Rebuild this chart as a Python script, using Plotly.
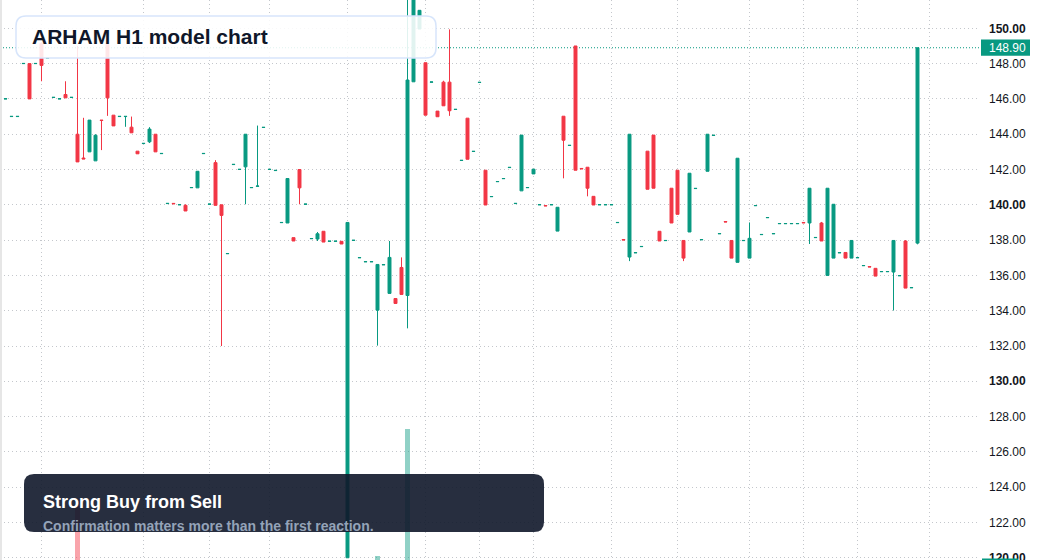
import plotly.graph_objects as go

# ---------------- data ----------------
opens = [146.00, 145.00, 145.00, 148.00, 148.00, 148.00, 149.15, 148.30, 146.08, 146.00,
         146.25, 146.08, 144.00, 142.65, 143.00, 142.49, 144.80, 149.09, 145.08, 145.00,
         145.00, 144.40, 143.04, 143.47, 143.57, 144.00, 142.90, 140.07, 140.08, 140.00,
         139.97, 140.97, 140.96, 142.90, 140.03, 142.39, 140.00, 137.23, 142.28, 142.00,
         142.15, 140.97, 141.05, 144.38, 142.00, 141.94, 138.99, 138.97, 138.14, 142.00,
         140.03, 138.08, 138.06, 138.50, 137.93, 137.93, 137.93, 120.00, 137.98, 137.00,
         136.77, 136.77, 134.03, 136.60, 134.98, 134.69, 136.45, 134.86, 146.97, 149.96,
         148.05, 146.95, 145.31, 146.95, 146.95, 145.40, 142.51, 144.91, 143.02, 146.93,
         141.96, 140.46, 141.31, 141.48, 142.11, 140.07, 140.79, 140.97, 141.75, 140.00,
         139.96, 140.00, 138.51, 145.02, 143.36, 149.00, 142.06, 142.13, 140.48, 140.00,
         140.00, 140.00, 138.99, 138.03, 137.04, 137.28, 137.63, 143.04, 143.95, 138.50,
         137.97, 140.94, 141.96, 137.98, 138.46, 140.92, 138.02, 141.90, 143.93, 138.36,
         139.05, 137.98, 136.74, 137.97, 136.98, 139.95, 138.31, 139.27, 138.36, 138.93,
         138.93, 138.93, 138.93, 139.00, 138.97, 138.14, 138.97, 136.00, 136.98, 137.28,
         137.30, 136.98, 137.00, 136.55, 136.50, 136.40, 136.21, 136.21, 136.19, 135.98,
         137.95, 135.30, 137.83]

highs = [146.01, 145.01, 145.01, 148.01, 148.00, 148.01, 149.20, 148.31, 146.09, 146.01,
         147.00, 146.09, 149.00, 144.93, 144.80, 144.00, 144.80, 149.09, 145.08, 145.01,
         145.01, 145.00, 143.04, 143.48, 144.40, 144.00, 142.91, 140.08, 140.08, 140.01,
         140.03, 140.98, 141.90, 142.91, 140.04, 142.53, 140.00, 137.24, 142.29, 142.01,
         144.00, 140.98, 144.49, 144.39, 142.01, 141.95, 139.00, 141.49, 138.14, 142.00,
         140.04, 138.09, 138.46, 138.50, 137.94, 137.94, 137.93, 139.00, 137.99, 137.01,
         136.78, 136.78, 136.62, 136.61, 137.95, 134.69, 137.02, 152.00, 152.60, 151.02,
         148.05, 146.96, 145.31, 147.03, 149.94, 145.41, 142.52, 144.91, 143.03, 146.94,
         141.96, 140.47, 141.32, 141.49, 142.12, 140.08, 143.95, 140.98, 142.02, 140.01,
         139.96, 140.01, 139.86, 145.02, 143.37, 149.00, 142.06, 142.13, 140.48, 140.01,
         140.01, 140.01, 139.00, 138.03, 144.00, 137.29, 137.64, 143.04, 143.95, 138.50,
         137.98, 140.94, 141.96, 137.98, 141.79, 140.93, 138.03, 144.00, 143.94, 138.37,
         139.05, 137.98, 142.64, 137.98, 139.00, 139.96, 138.32, 139.28, 138.37, 138.94,
         138.94, 138.94, 138.94, 139.00, 140.94, 138.15, 139.03, 140.94, 140.03, 137.29,
         137.30, 137.98, 137.01, 136.56, 136.50, 136.40, 136.22, 136.22, 137.98, 135.99,
         138.00, 135.31, 148.90]

lows = [146.00, 145.00, 145.00, 148.00, 146.00, 148.00, 147.00, 148.30, 146.08, 146.00,
        146.06, 146.08, 142.43, 142.60, 143.00, 142.49, 143.10, 145.04, 144.47, 145.00,
        144.42, 144.08, 142.89, 143.47, 143.50, 143.00, 142.90, 140.07, 140.06, 140.00,
        139.65, 140.97, 140.96, 142.90, 140.03, 139.97, 132.00, 137.23, 142.28, 142.00,
        140.03, 140.97, 141.05, 144.38, 142.00, 141.94, 138.99, 138.97, 137.95, 140.03,
        140.03, 138.08, 137.95, 137.89, 137.93, 137.93, 137.78, 120.00, 137.98, 137.00,
        136.77, 136.77, 132.02, 136.60, 134.98, 134.41, 134.92, 133.00, 146.97, 149.96,
        145.08, 146.95, 144.99, 145.61, 145.04, 145.40, 142.51, 142.58, 143.02, 146.93,
        139.99, 140.46, 141.31, 141.48, 142.11, 140.07, 140.79, 140.97, 141.75, 140.00,
        139.94, 140.00, 138.51, 141.50, 143.36, 141.96, 142.04, 140.48, 139.99, 140.00,
        140.00, 140.00, 138.99, 138.01, 136.81, 137.28, 137.63, 140.88, 140.94, 137.95,
        137.97, 138.97, 139.46, 136.81, 138.46, 140.92, 138.02, 141.90, 143.93, 138.36,
        139.03, 136.98, 136.74, 137.97, 136.98, 139.95, 138.31, 139.27, 138.36, 138.93,
        138.93, 138.93, 138.93, 138.98, 137.78, 138.14, 137.95, 136.00, 136.98, 137.28,
        136.98, 136.98, 137.00, 136.55, 136.48, 135.96, 136.21, 136.21, 134.01, 135.98,
        135.28, 135.30, 137.76]

closes = [146.01, 145.01, 145.01, 148.01, 146.00, 148.01, 147.90, 148.31, 146.09, 146.01,
          146.06, 146.09, 142.43, 142.60, 144.80, 143.94, 144.78, 146.06, 144.47, 145.01,
          145.01, 144.08, 142.89, 143.48, 144.29, 143.00, 142.91, 140.08, 140.06, 140.01,
          139.65, 140.98, 141.90, 142.91, 140.04, 139.97, 139.40, 137.24, 142.29, 142.01,
          144.00, 140.98, 141.06, 144.39, 142.01, 141.95, 139.00, 141.49, 137.95, 140.96,
          140.04, 138.09, 138.36, 137.89, 137.94, 137.94, 137.78, 139.00, 137.99, 137.01,
          136.78, 136.78, 136.62, 136.61, 137.02, 134.41, 134.92, 147.07, 152.40, 151.02,
          145.08, 146.96, 144.99, 145.61, 145.33, 145.41, 142.52, 142.58, 143.03, 146.94,
          139.99, 140.47, 141.32, 141.49, 142.12, 140.08, 143.95, 140.98, 142.02, 140.01,
          139.94, 140.01, 139.86, 143.66, 143.37, 141.96, 142.04, 140.94, 139.99, 140.01,
          140.01, 140.01, 139.00, 138.01, 144.00, 137.29, 137.64, 140.88, 140.94, 137.95,
          137.98, 138.97, 139.46, 136.98, 141.79, 140.93, 138.03, 144.00, 143.94, 138.37,
          139.03, 136.98, 142.64, 137.98, 138.10, 139.96, 138.32, 139.28, 138.37, 138.94,
          138.94, 138.94, 138.94, 138.98, 140.94, 138.15, 137.95, 140.94, 140.03, 137.29,
          136.98, 137.98, 137.01, 136.56, 136.48, 135.96, 136.22, 136.22, 137.98, 135.99,
          135.28, 135.31, 148.90]

# volume (only the bars tall enough to show inside the window are non-zero)
volumes = [0] * 153
volumes[12] = 52
volumes[62] = 21
volumes[67] = 100

price_ticks = [120, 122, 124, 126, 128, 130, 132, 134, 136, 138, 140, 142, 144, 146, 148, 150]
time_grid_bars = [6, 23, 34, 44, 57, 70, 79, 88, 101, 112, 124, 133, 142, 154]

title_text = "ARHAM H1 model chart"
note_title = "Strong Buy from Sell"
note_sub = "Confirmation matters more than the first reaction."

# ---------------- style ----------------
UP = "#089981"
DOWN = "#F23645"
GRID = "#c4c7cc"
FONT = "Liberation Sans, Arial, sans-serif"
W, H = 1037, 560
PLOT_W = 980  # plot area width in px

bars = list(range(len(opens)))
last_close = closes[-1]

fig = go.Figure()

vol_colors = ["rgba(8,153,129,0.45)" if c >= o else "rgba(242,54,69,0.45)"
              for o, c in zip(opens, closes)]
fig.add_trace(go.Bar(x=bars, y=volumes, marker_color=vol_colors, marker_line_width=0,
                     width=0.8, yaxis="y2", hoverinfo="skip", showlegend=False))

fig.add_trace(go.Candlestick(
    x=bars, open=opens, high=highs, low=lows, close=closes,
    increasing=dict(line=dict(color=UP, width=1), fillcolor=UP),
    decreasing=dict(line=dict(color=DOWN, width=1), fillcolor=DOWN),
    whiskerwidth=0, showlegend=False, hoverinfo="skip"))


def px2paper(px, py):
    return px / PLOT_W, 1 - py / H


def rounded_rect(x0, y0, x1, y1, r):
    rx, ry = r / PLOT_W, r / H
    X0, Y0 = px2paper(x0, y0)
    X1, Y1 = px2paper(x1, y1)
    return (f"M{X0+rx},{Y0} L{X1-rx},{Y0} Q{X1},{Y0} {X1},{Y0-ry} "
            f"L{X1},{Y1+ry} Q{X1},{Y1} {X1-rx},{Y1} L{X0+rx},{Y1} "
            f"Q{X0},{Y1} {X0},{Y1+ry} L{X0},{Y0-ry} Q{X0},{Y0} {X0+rx},{Y0} Z")


shapes = [
    dict(type="line", xref="paper", yref="y", x0=0, x1=1, y0=last_close, y1=last_close,
         line=dict(color=UP, width=1, dash="1px,2px"), layer="below"),
    dict(type="path", xref="paper", yref="paper", path=rounded_rect(16, 16, 436, 58, 10),
         fillcolor="rgba(255,255,255,0.88)", line=dict(color="#d7e5fb", width=1.5), layer="above"),
    dict(type="path", xref="paper", yref="paper", path=rounded_rect(24, 474, 544, 532, 10),
         fillcolor="rgba(15,23,42,0.9)", line=dict(width=0), layer="above"),
    dict(type="rect", xref="paper", yref="y", x0=981 / PLOT_W, x1=1030 / PLOT_W,
         y0=last_close - 0.46, y1=last_close + 0.47, fillcolor=UP, line=dict(width=0), layer="above"),
    dict(type="rect", xref="paper", yref="paper", x0=0, x1=2 / PLOT_W, y0=0, y1=1,
         fillcolor="#e6e6e6", line=dict(width=0), layer="above"),
    # top edge of the (cut-off) volume value label at the bottom of the price scale
    dict(type="rect", xref="paper", yref="paper", x0=982 / PLOT_W, x1=1018 / PLOT_W,
         y0=0, y1=1.5 / H, fillcolor=UP, line=dict(width=0), layer="above"),
]

annotations = [
    dict(text=f"<b>{title_text}</b>", xref="paper", yref="paper", x=px2paper(30, 0)[0],
         y=px2paper(0, 37)[1], xanchor="left", yanchor="middle", showarrow=False,
         font=dict(family=FONT, size=21, color="#0f172a")),
    dict(text=f"<b>{note_title}</b>", xref="paper", yref="paper", x=px2paper(41, 0)[0],
         y=px2paper(0, 502)[1], xanchor="left", yanchor="middle", showarrow=False,
         font=dict(family=FONT, size=18, color="#ffffff")),
    dict(text=f"<b>{note_sub}</b>", xref="paper", yref="paper", x=px2paper(41, 0)[0],
         y=px2paper(0, 525.5)[1], xanchor="left", yanchor="middle", showarrow=False,
         font=dict(family=FONT, size=14, color="#94a3b8")),
    dict(text=f"{last_close:.2f}", xref="paper", yref="y", x=987 / PLOT_W, y=last_close,
         xanchor="left", yanchor="middle", showarrow=False,
         font=dict(family=FONT, size=12, color="#ffffff")),
]

tick_text = [f"<b>{v:.2f}</b>" if v % 10 == 0 else f"{v:.2f}" for v in price_ticks]

x_left = -5.5 / 6
x_right = x_left + PLOT_W / 6

fig.update_layout(
    width=W, height=H,
    margin=dict(l=0, r=W - PLOT_W, t=0, b=0, pad=0, autoexpand=False),
    paper_bgcolor="white", plot_bgcolor="white",
    showlegend=False,
    xaxis=dict(range=[x_left, x_right], showticklabels=False, tickvals=time_grid_bars,
               showgrid=True, gridcolor=GRID, griddash="1px,3px", gridwidth=1,
               zeroline=False, showline=False, ticks="", rangeslider=dict(visible=False),
               fixedrange=True, automargin=False),
    yaxis=dict(range=[119.874, 151.605], side="right", tickvals=price_ticks, ticktext=tick_text,
               showgrid=True, gridcolor=GRID, griddash="1px,3px", gridwidth=1,
               zeroline=False, showline=False, ticks="", ticklabelstandoff=8,
               ticklabeloverflow="allow", automargin=False,
               tickfont=dict(family=FONT, size=12, color="#131722")),
    yaxis2=dict(overlaying="y", range=[18.6, 366.5], visible=False, showgrid=False,
                automargin=False),
    shapes=shapes,
    annotations=annotations,
    bargap=0,
)

fig.write_html("out.html")
